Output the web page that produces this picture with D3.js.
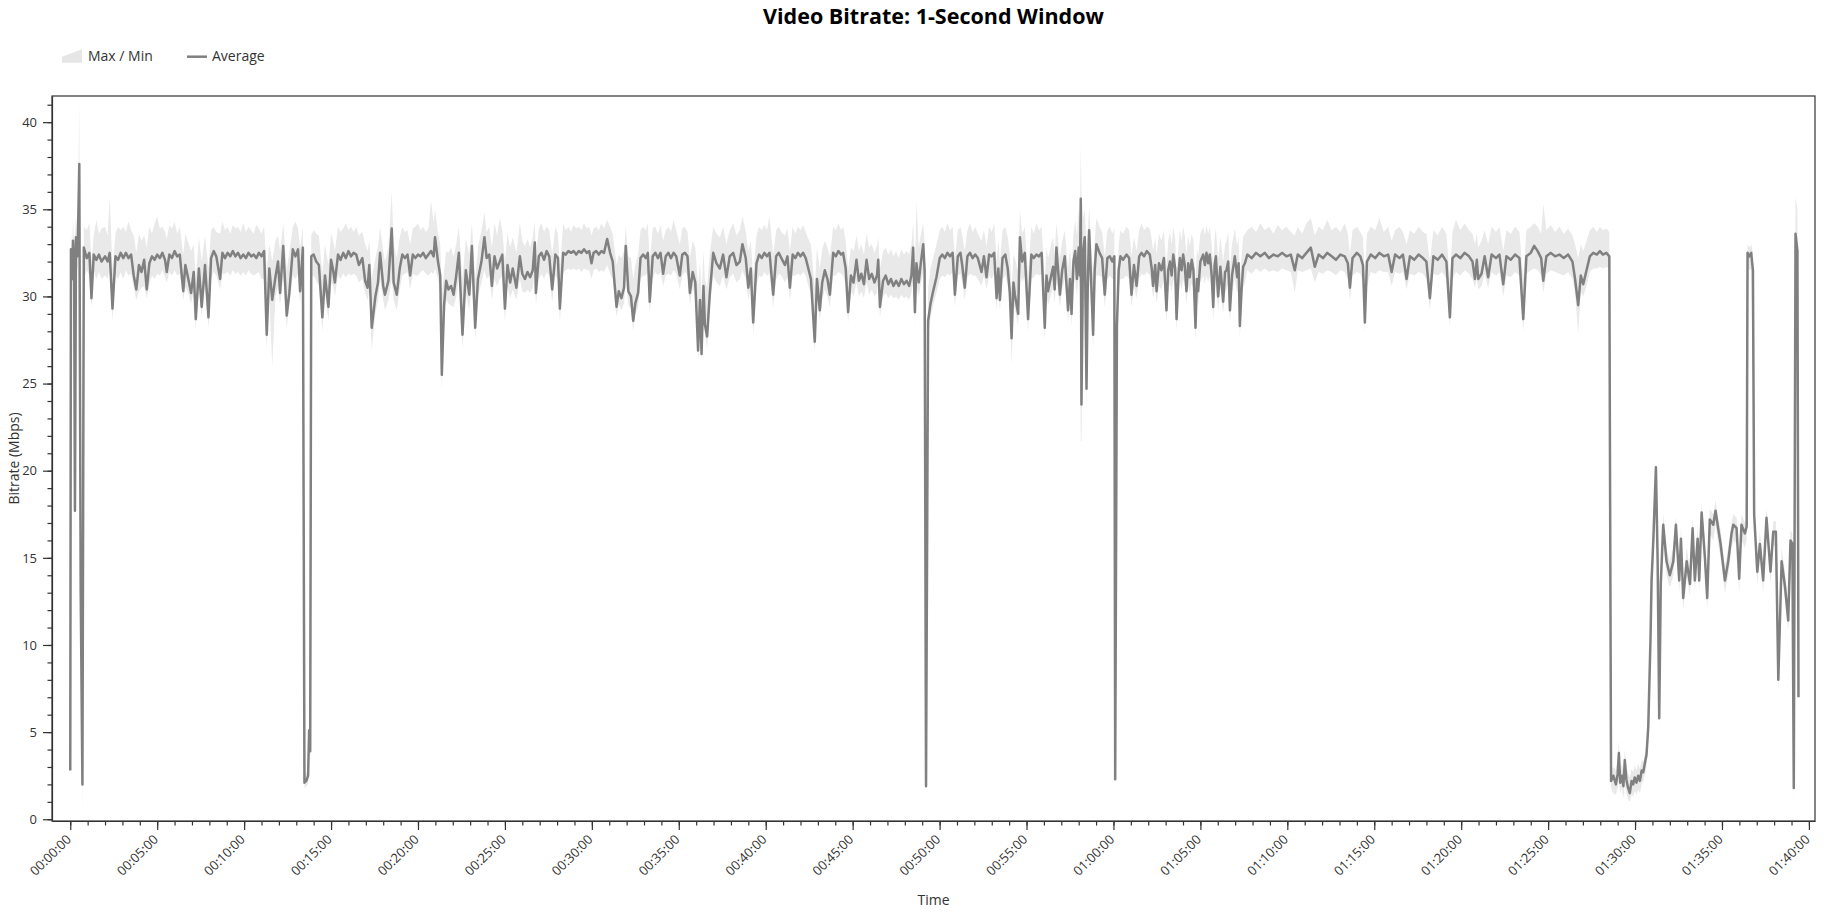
<!DOCTYPE html>
<html>
<head>
<meta charset="utf-8">
<script src="https://cdn.jsdelivr.net/npm/d3@7"></script>
<style>
  body { margin: 0; background: #fff; }
  text { font-family: "Open Sans", "Noto Sans", sans-serif; }
</style>
</head>
<body>
<svg id="bitrateChart"></svg>
<script>
// sample times (minutes) and the 1-second window stats (Mbps)
var tMin = [
  0, 0.04, 0.1, 0.16, 0.22, 0.27, 0.33, 0.42, 0.52, 0.6,
  0.7, 0.78, 0.95, 1.1, 1.22, 1.35, 1.5, 1.65, 1.8, 2,
  2.15, 2.27, 2.43, 2.6, 2.75, 2.9, 3.05, 3.2, 3.35, 3.5,
  3.65, 3.8, 3.95, 4.1, 4.25, 4.4, 4.55, 4.7, 4.85, 5,
  5.15, 5.3, 5.45, 5.55, 5.7, 5.85, 6, 6.15, 6.3, 6.5,
  6.62, 6.75, 6.95, 7.1, 7.22, 7.4, 7.56, 7.75, 7.95, 8.1,
  8.25, 8.4, 8.62, 8.75, 8.9, 9.05, 9.2, 9.35, 9.5, 9.65,
  9.8, 9.95, 10.1, 10.25, 10.4, 10.55, 10.7, 10.85, 11, 11.15,
  11.3, 11.45, 11.62, 11.8, 11.95, 12.07, 12.25, 12.45, 12.6, 12.8,
  12.95, 13.1, 13.22, 13.38, 13.47, 13.58, 13.68, 13.74, 13.8, 13.86,
  14.00, 14.15, 14.30, 14.50, 14.65, 14.85, 15.00, 15.12, 15.22, 15.40,
  15.55, 15.70, 15.85, 16.00, 16.15, 16.30, 16.45, 16.60, 16.80, 16.96,
  17.10, 17.20, 17.34, 17.55, 17.70, 17.82, 18.00, 18.10, 18.30, 18.49,
  18.60, 18.78, 18.95, 19.10, 19.25, 19.40, 19.55, 19.70, 19.85, 20.00,
  20.15, 20.30, 20.45, 20.60, 20.75, 20.90, 20.98, 21.15, 21.28, 21.37,
  21.50, 21.62, 21.75, 21.90, 22.05, 22.20, 22.35, 22.56, 22.75, 22.95,
  23.10, 23.29, 23.45, 23.65, 23.82, 23.95, 24.10, 24.25, 24.40, 24.55,
  24.70, 24.85, 25.00, 25.15,
  25.30, 25.45, 25.66, 25.86, 26.00, 26.15, 26.30, 26.45, 26.60, 26.72,
  26.78, 26.95, 27.10, 27.25, 27.40, 27.55, 27.72, 27.90, 28.05, 28.16,
  28.35, 28.50, 28.65, 28.80, 28.95, 29.10, 29.25, 29.40, 29.55, 29.70,
  29.85, 29.98, 30.10, 30.25, 30.40, 30.55, 30.70, 30.88, 31.05, 31.20,
  31.42, 31.55, 31.70, 31.85, 31.95, 32.10, 32.25, 32.38, 32.50, 32.66,
  32.80, 32.95, 33.10, 33.22, 33.33, 33.50, 33.65, 33.80, 33.95, 34.10,
  34.25, 34.40, 34.55, 34.70, 34.85, 35.06, 35.20, 35.35, 35.50, 35.64,
  35.80, 35.95, 36.11, 36.22, 36.31, 36.42, 36.50, 36.63, 36.78,
  36.98, 37.17, 37.36, 37.55, 37.74, 37.93, 38.13, 38.32, 38.51, 38.66,
  38.85, 39.00, 39.14, 39.28, 39.47, 39.62, 39.77, 39.92, 40.07, 40.22,
  40.43, 40.60, 40.75, 40.90, 41.10, 41.25, 41.39, 41.55, 41.70, 41.85,
  42.00, 42.15, 42.30, 42.45, 42.60, 42.82, 42.95, 43.11, 43.25, 43.40,
  43.55, 43.69, 43.88, 44.03, 44.18, 44.33, 44.45, 44.60, 44.74, 44.90,
  45.05, 45.22, 45.36, 45.50, 45.65, 45.80, 45.95, 46.10, 46.25, 46.40,
  46.47, 46.57, 46.75, 46.90, 47.05, 47.20, 47.35, 47.50, 47.65, 47.80,
  47.95, 48.10, 48.25, 48.38, 48.48, 48.58, 48.67, 48.80, 48.93, 49.06,
  49.14, 49.22, 49.34, 49.48, 49.63, 49.82, 50.01, 50.15, 50.30, 50.45,
  50.60, 50.75, 50.88,
  51.05, 51.20, 51.30, 51.45, 51.60, 51.75, 51.90, 52.05, 52.20, 52.41,
  52.55, 52.70, 52.85, 53.00, 53.14, 53.28, 53.38, 53.47, 53.62, 53.78,
  53.92, 54.04, 54.14, 54.25, 54.33, 54.52, 54.62, 54.75, 54.90, 55.09,
  55.28, 55.42, 55.57, 55.72, 55.87, 56.05, 56.15, 56.24, 56.38, 56.53,
  56.62, 56.72, 56.92, 57.05, 57.20, 57.39, 57.50, 57.59, 57.70, 57.80,
  57.90, 58.00, 58.07, 58.12, 58.16, 58.25, 58.35, 58.45, 58.52, 58.60,
  58.74, 58.83, 58.92, 59.02, 59.20, 59.35, 59.50, 59.65, 59.79, 59.93,
  60.05, 60.10, 60.20, 60.30, 60.40, 60.55, 60.75, 60.90, 61.04, 61.18,
  61.33, 61.48, 61.61, 61.76, 61.92, 62.09, 62.20, 62.28, 62.40, 62.48,
  62.62, 62.76, 62.90, 63.05, 63.15, 63.25, 63.35, 63.44, 63.55, 63.63,
  63.75, 63.82, 63.92, 64.01, 64.10, 64.20, 64.30, 64.39, 64.50, 64.60,
  64.72, 64.80, 64.87, 65.00, 65.16, 65.26, 65.35, 65.45, 65.54, 65.65,
  65.74, 65.82, 65.89, 66.02, 66.15, 66.31, 66.42, 66.50, 66.60, 66.70,
  66.82, 66.98, 67.12, 67.20, 67.27, 67.38, 67.46, 67.56, 67.70, 67.95,
  68.20, 68.45, 68.70, 68.95, 69.20, 69.45, 69.70, 69.95, 70.20, 70.43,
  70.60, 70.85, 71.10, 71.35, 71.58, 71.80, 72.05, 72.30, 72.55, 72.80,
  73.05, 73.30, 73.48, 73.60, 73.75, 74.00, 74.20, 74.35, 74.46, 74.58,
  74.80, 75.05, 75.30, 75.55, 75.80, 76.00, 76.20, 76.45, 76.65, 76.86,
  77.05, 77.30, 77.55, 77.80, 78.00, 78.20, 78.40, 78.65, 78.90, 79.15,
  79.35, 79.50, 79.70, 79.95, 80.20, 80.45, 80.65, 80.79, 80.90, 80.98,
  81.17, 81.35, 81.55, 81.75, 82.00, 82.20, 82.42, 82.60, 82.85, 83.10,
  83.35, 83.57, 83.75, 84.00, 84.20, 84.40, 84.60, 84.72, 84.90, 85.15,
  85.40, 85.65, 85.90, 86.15, 86.40, 86.55, 86.73, 86.88, 87.02, 87.21,
  87.40, 87.60, 87.80, 87.98, 88.15, 88.35, 88.52, 88.62, 88.75, 88.90,
  89.00, 89.07, 89.15, 89.25, 89.33, 89.41, 89.50, 89.60, 89.70, 89.80,
  89.89, 89.98, 90.08, 90.18, 90.28, 90.38, 90.47, 90.58, 90.66, 90.76,
  90.89, 90.95, 91.05, 91.20, 91.30, 91.39, 91.48, 91.62, 91.81, 92.00,
  92.20, 92.35, 92.54, 92.64, 92.77, 92.97, 93.16, 93.31, 93.44, 93.60,
  93.69, 93.83, 94.02, 94.15, 94.30, 94.50, 94.63, 94.78, 94.92, 95.17,
  95.36, 95.55, 95.65, 95.84, 95.99, 96.12, 96.32, 96.42, 96.47, 96.57,
  96.68, 96.78, 96.85, 97.03, 97.18, 97.37, 97.56, 97.79, 97.95, 98.10,
  98.24, 98.43, 98.62, 98.81, 98.94, 99.05, 99.13, 99.23, 99.34, 99.40
];

var avgMbps = [
  2.8, 32.7, 31.0, 33.2, 32.0, 17.7, 33.4, 32.3, 37.6, 13.2,
  2.0, 32.8, 32.2, 32.5, 29.9, 32.4, 32.1, 32.4, 32.0, 32.3,
  32.0, 32.5, 29.3, 32.3, 32.1, 32.5, 32.2, 32.5, 32.2, 32.4,
  31.2, 30.4, 31.8, 31.4, 32.1, 30.4, 31.9, 32.3, 32.1, 32.4,
  32.2, 32.5, 32.1, 31.4, 32.4, 32.2, 32.6, 32.3, 32.4, 30.3,
  31.8, 31.2, 30.2, 31.4, 28.7, 31.6, 29.4, 31.8, 28.8, 32.2,
  32.6, 32.3, 31.0, 32.5, 32.2, 32.5, 32.3, 32.6, 32.3, 32.5,
  32.2, 32.4, 32.2, 32.5, 32.3, 32.4, 32.2, 32.5, 32.3, 32.6,
  27.8, 31.6, 29.8, 31.1, 32.0, 30.2, 32.9, 28.9, 30.2, 32.7,
  32.3, 32.7, 30.3, 32.8, 2.1, 2.2, 2.5, 5.1, 3.9, 32.3,
  32.4, 32.0, 31.8, 28.8, 31.2, 29.4, 32.1, 31.5, 30.8, 32.4,
  32.1, 32.5, 32.2, 32.6, 32.3, 32.5, 32.4, 31.8, 32.2, 30.9,
  30.5, 31.8, 28.2, 30.0, 30.8, 32.5, 30.6, 30.1, 30.9, 33.9,
  30.8, 30.1, 31.6, 32.4, 32.2, 32.4, 31.2, 32.4, 32.2, 32.4,
  32.3, 32.5, 32.2, 32.4, 32.6, 32.3, 33.4, 32.0, 31.2, 25.5,
  29.5, 30.9, 30.4, 30.6, 30.1, 31.2, 32.5, 27.8, 31.5, 30.1,
  32.9, 28.2, 31.0, 32.0, 33.4, 32.2, 32.4, 30.6, 32.3, 31.6,
  32.0, 32.4, 29.3, 31.8,
  30.8, 31.6, 30.5, 32.3, 31.3, 31.0, 31.4, 31.1, 31.5, 33.1,
  30.2, 32.3, 32.5, 32.1, 32.6, 32.3, 30.4, 32.4, 32.2, 29.3,
  32.5, 32.4, 32.6, 32.5, 32.6, 32.4, 32.6, 32.5, 32.7, 32.5,
  32.6, 31.9, 32.5, 32.6, 32.4, 32.6, 32.5, 33.3, 32.5, 32.0,
  29.4, 30.3, 29.9, 30.5, 32.9, 30.3, 30.0, 28.6, 29.6, 30.2,
  32.2, 32.4, 32.2, 32.5, 29.7, 32.3, 32.5, 32.2, 32.5, 31.3,
  32.3, 32.5, 32.2, 32.5, 32.3, 31.2, 32.4, 32.5, 32.3, 30.2,
  31.4, 30.8, 26.9, 29.8, 26.7, 30.6, 28.4, 27.7, 30.1,
  32.5, 31.9, 31.6, 32.4, 31.1, 32.3, 32.5, 31.8, 32.0, 33.0,
  32.2, 30.5, 31.6, 28.5, 31.9, 32.4, 32.2, 32.5, 32.3, 32.5,
  30.1, 32.3, 32.5, 32.2, 31.8, 32.3, 30.5, 32.4, 32.2, 32.5,
  32.3, 32.5, 32.2, 31.6, 31.0, 27.4, 31.0, 29.2, 30.8, 31.5,
  31.0, 30.1, 32.5, 32.3, 32.6, 32.4, 32.5, 31.6, 29.1, 31.2,
  30.8, 32.1, 30.9, 31.3, 30.7, 32.1, 31.0, 31.3, 30.8, 31.2,
  32.1, 29.4, 30.9, 31.2, 30.7, 31.0, 30.6, 30.9, 30.6, 31.0,
  30.7, 30.9, 30.6, 31.2, 32.8, 29.1, 31.9, 30.8, 32.0, 33.0,
  31.5, 1.9, 28.6, 29.6, 30.3, 31.1, 32.2, 32.4, 32.2, 32.5,
  32.3, 32.5, 30.1,
  32.3, 32.5, 31.8, 30.5, 32.3, 32.5, 32.2, 32.4, 32.2, 31.4,
  32.3, 31.1, 32.4, 32.3, 32.5, 29.9, 31.6, 29.8, 32.2, 32.4,
  31.6, 30.2, 27.6, 30.8, 30.1, 29.0, 33.4, 32.0, 32.5, 28.7,
  32.4, 32.2, 32.4, 32.3, 32.5, 28.2, 31.2, 30.3, 31.0, 31.7,
  30.4, 32.8, 30.1, 31.5, 32.3, 29.2, 31.0, 29.0, 32.0, 32.6,
  31.0, 32.8, 31.2, 35.6, 23.8, 32.5, 33.4, 24.7, 30.5, 33.8,
  30.3, 27.8, 31.5, 33.0, 32.5, 32.2, 30.1, 32.2, 32.3, 32.0,
  32.3, 2.3, 28.3, 31.5, 32.3, 32.1, 32.4, 32.2, 30.1, 31.8,
  30.6, 32.3, 32.5, 32.3, 32.6, 32.4, 31.6, 30.6, 31.8, 30.3,
  31.9, 31.5, 32.2, 29.2, 31.5, 32.0, 31.2, 32.4, 31.6, 28.7,
  31.4, 32.2, 31.5, 32.4, 31.8, 30.3, 31.9, 31.1, 32.1, 31.5,
  28.2, 31.0, 30.3, 32.0, 32.4, 31.8, 32.5, 31.9, 32.4, 31.2,
  29.4, 31.8, 32.3, 30.0, 31.7, 29.7, 31.4, 31.5, 32.0, 29.2,
  31.2, 32.3, 31.1, 31.9, 28.3, 30.6, 31.7, 31.9, 32.4, 32.2,
  32.5, 32.3, 32.5, 32.2, 32.4, 32.3, 32.5, 32.3, 32.4, 31.5,
  32.4, 32.2, 32.5, 32.8, 31.7, 32.4, 32.2, 32.5, 32.3, 32.1,
  32.4, 32.3, 31.9, 30.5, 32.2, 32.5, 32.3, 31.8, 28.5, 32.0,
  32.4, 32.2, 32.5, 32.3, 32.4, 31.4, 32.4, 32.2, 32.4, 31.0,
  32.3, 32.1, 32.4, 32.2, 32.0, 29.9, 32.3, 32.1, 32.4, 32.0,
  28.8, 32.2, 32.4, 32.2, 32.5, 32.3, 32.0, 31.0, 32.1, 31.0,
  31.3, 32.3, 31.1, 32.4, 32.2, 32.4, 30.7, 32.3, 32.1, 32.4,
  32.2, 28.7, 32.3, 32.5, 32.9, 32.6, 32.2, 30.9, 32.3, 32.5,
  32.3, 32.4, 32.2, 32.4, 32.0, 31.0, 29.5, 31.2, 30.7, 31.5,
  32.3, 32.5, 32.4, 32.6, 32.4, 32.5, 32.3, 2.2, 2.5, 2.0,
  2.6, 3.8, 2.1, 2.5, 1.9, 3.4, 2.3, 1.8, 1.5, 2.2,
  2.0, 2.4, 2.1, 2.5, 2.2, 2.8, 2.7, 3.3, 3.7, 5.3,
  10.4, 13.7, 16.0, 20.2, 14.8, 5.8, 13.5, 16.9, 14.8, 14.0,
  14.8, 16.9, 13.7, 16.1, 12.7, 14.8, 13.5, 16.7, 13.7, 16.1,
  13.7, 17.6, 15.0, 12.7, 17.2, 16.9, 17.7, 16.7, 15.8, 13.7,
  14.8, 16.4, 16.9, 16.7, 13.8, 16.9, 16.4, 16.8, 32.5, 32.3,
  32.5, 31.5, 17.5, 14.2, 15.8, 13.7, 17.3, 14.2, 16.5, 16.5,
  8.0, 14.8, 13.4, 11.4, 16.0, 15.8, 1.8, 33.6, 32.6, 7.0
];

var minMbps = [
  2.0, 31.5, 30.5, 32.0, 31.5, 13.0, 32.0, 31.5, 33.0, 10.0,
  0.5, 31.0, 31.5, 31.2, 29.3, 31.5, 31.0, 31.4, 31.0, 31.2,
  31.0, 31.6, 28.6, 31.2, 31.0, 31.4, 31.0, 31.5, 31.2, 31.3,
  30.5, 29.8, 30.3, 30.5, 30.6, 29.9, 30.7, 31.2, 31.0, 31.3,
  31.2, 31.5, 31.1, 30.8, 31.4, 31.2, 31.5, 31.2, 31.3, 29.8,
  30.5, 30.3, 29.6, 30.3, 28.1, 30.5, 28.8, 30.6, 28.2, 31.0,
  31.4, 31.2, 30.4, 31.3, 31.3, 31.4, 31.2, 31.5, 31.3, 31.4,
  31.2, 31.4, 31.2, 31.5, 31.3, 31.2, 31.3, 31.4, 31.0, 31.0,
  27.0, 30.0, 26.0, 30.0, 30.6, 29.5, 31.2, 28.2, 29.5, 31.2,
  31.0, 31.3, 29.6, 31.5, 1.8, 1.9, 2.0, 4.0, 3.5, 31.0,
  31.2, 30.9, 30.6, 28.0, 30.2, 28.6, 30.8, 30.6, 30.0, 31.2,
  31.0, 31.3, 31.1, 31.3, 31.2, 31.3, 31.2, 30.8, 31.0, 30.2,
  29.8, 30.4, 26.9, 29.0, 29.8, 31.0, 29.8, 29.2, 29.8, 31.0,
  29.8, 29.2, 30.4, 31.2, 31.3, 31.4, 30.4, 31.3, 31.2, 31.2,
  31.4, 31.5, 31.3, 31.2, 31.4, 31.3, 31.6, 31.0, 30.3, 24.6,
  28.5, 29.8, 29.6, 29.5, 29.4, 30.0, 31.0, 27.0, 30.2, 29.2,
  31.0, 27.5, 30.0, 30.8, 31.5, 31.0, 31.2, 29.8, 31.0, 30.6,
  31.0, 31.2, 28.6, 30.6,
  29.9, 30.4, 29.8, 31.0, 30.3, 30.2, 30.4, 30.2, 30.5, 31.5,
  29.5, 31.0, 31.3, 31.0, 31.4, 31.2, 29.7, 31.2, 31.0, 28.5,
  31.4, 31.5, 31.6, 31.5, 31.6, 31.5, 31.6, 31.4, 31.6, 31.5,
  31.5, 31.0, 31.5, 31.6, 31.4, 31.5, 31.4, 31.8, 31.3, 31.0,
  28.8, 29.6, 29.2, 29.6, 31.0, 29.5, 29.3, 28.0, 29.0, 29.4,
  31.0, 31.2, 31.2, 31.4, 29.0, 31.0, 31.4, 31.2, 31.4, 30.6,
  31.2, 31.3, 31.2, 31.5, 31.3, 30.4, 31.2, 31.4, 31.2, 29.5,
  30.5, 30.0, 26.2, 28.8, 26.2, 29.6, 27.8, 27.0, 29.4,
  31.2, 30.8, 30.6, 31.2, 30.4, 31.1, 31.3, 30.8, 31.0, 31.5,
  31.0, 29.8, 30.6, 27.8, 30.6, 31.2, 31.1, 31.4, 31.2, 31.3,
  29.4, 31.0, 31.3, 31.2, 30.8, 31.1, 29.8, 31.2, 31.2, 31.3,
  31.2, 31.4, 31.2, 30.6, 30.2, 26.8, 30.0, 28.6, 29.8, 30.4,
  30.0, 29.4, 31.2, 31.2, 31.4, 31.3, 31.2, 30.6, 28.5, 30.3,
  30.0, 30.8, 30.0, 30.3, 29.9, 30.8, 30.1, 30.4, 30.0, 30.2,
  30.8, 28.8, 30.0, 30.2, 29.9, 30.1, 29.9, 30.0, 29.8, 30.1,
  29.9, 30.0, 29.8, 30.2, 31.0, 28.4, 30.6, 30.0, 30.8, 31.4,
  30.4, 1.6, 27.8, 28.8, 29.5, 30.2, 31.0, 31.2, 31.1, 31.3,
  31.2, 31.4, 29.4,
  31.2, 31.3, 30.8, 29.8, 31.1, 31.3, 31.2, 31.2, 31.0, 30.6,
  31.2, 30.4, 31.2, 31.0, 31.3, 29.2, 30.5, 29.2, 31.0, 31.2,
  30.6, 29.5, 26.1, 29.4, 29.3, 28.3, 31.5, 30.8, 31.2, 28.0,
  31.0, 31.1, 31.3, 31.2, 31.3, 27.5, 30.0, 29.5, 30.0, 30.5,
  29.6, 31.0, 29.4, 30.4, 31.0, 28.5, 30.0, 28.3, 30.6, 31.0,
  30.0, 31.2, 30.0, 21.7, 21.7, 28.0, 30.0, 23.5, 29.0, 31.0,
  29.0, 27.0, 30.0, 31.2, 31.2, 31.1, 29.4, 31.0, 31.2, 31.0,
  31.0, 1.6, 27.5, 30.4, 31.0, 31.0, 31.2, 31.0, 29.4, 30.6,
  29.9, 31.0, 31.3, 31.2, 31.4, 31.2, 30.6, 29.9, 30.6, 29.6,
  30.6, 30.4, 31.0, 28.5, 30.3, 30.8, 30.2, 31.0, 30.5, 28.0,
  30.2, 30.8, 30.4, 31.0, 30.7, 29.6, 30.6, 30.2, 30.8, 30.4,
  27.5, 30.0, 29.5, 30.8, 31.2, 30.7, 31.2, 30.8, 31.2, 30.2,
  28.6, 30.5, 31.0, 29.2, 30.5, 29.0, 30.2, 30.4, 30.8, 28.5,
  30.2, 31.0, 30.2, 30.6, 27.6, 29.8, 30.5, 30.8, 31.5, 31.3,
  31.6, 31.4, 31.6, 31.4, 31.5, 31.4, 31.6, 31.5, 31.4, 30.2,
  31.5, 31.4, 31.5, 31.6, 30.8, 31.4, 31.3, 31.5, 31.4, 31.2,
  31.5, 31.4, 31.0, 29.8, 31.2, 31.4, 31.3, 30.8, 27.9, 30.6,
  31.4, 31.3, 31.5, 31.4, 31.4, 30.6, 31.4, 31.3, 31.4, 30.4,
  31.3, 31.2, 31.4, 31.3, 31.0, 29.2, 31.3, 31.2, 31.4, 31.0,
  28.3, 31.0, 31.4, 31.2, 31.5, 31.3, 31.0, 30.5, 31.0, 30.4,
  30.6, 31.3, 30.5, 31.4, 31.2, 31.4, 30.0, 31.2, 31.1, 31.4,
  31.2, 28.0, 31.3, 31.5, 31.6, 31.5, 31.2, 30.2, 31.3, 31.5,
  31.4, 31.3, 31.2, 31.4, 31.0, 30.2, 27.9, 30.3, 30.0, 30.6,
  31.4, 31.6, 31.6, 31.7, 31.6, 31.7, 31.6, 1.8, 1.5, 1.4,
  1.8, 2.2, 1.5, 1.8, 1.2, 2.0, 1.5, 1.1, 1.0, 1.4,
  1.3, 1.6, 1.4, 1.7, 1.5, 2.0, 2.2, 2.6, 3.0, 4.5,
  9.0, 12.5, 14.5, 18.5, 13.5, 5.2, 12.5, 16.0, 14.0, 13.3,
  14.0, 16.0, 13.0, 15.2, 12.0, 14.0, 12.8, 15.8, 13.0, 15.3,
  13.0, 16.8, 14.2, 12.0, 16.4, 16.0, 16.9, 15.8, 15.0, 13.0,
  14.0, 15.6, 16.0, 15.8, 13.0, 16.0, 15.6, 16.0, 31.5, 31.5,
  31.6, 25.0, 16.6, 13.5, 15.0, 13.0, 16.5, 13.5, 15.7, 15.7,
  7.4, 14.0, 12.6, 10.8, 15.2, 15.0, 0.5, 32.5, 31.5, 6.0
];

var maxMbps = [
  3.0, 33.8, 32.5, 34.5, 33.0, 33.5, 34.6, 33.5, 41.1, 20.0,
  8.0, 34.0, 33.8, 34.2, 32.0, 33.5, 34.4, 33.6, 33.9, 34.0,
  33.5, 35.7, 31.5, 33.6, 34.0, 33.8, 34.0, 33.7, 34.3, 33.8,
  33.5, 32.5, 33.6, 33.2, 33.5, 32.8, 34.0, 33.6, 34.2, 34.6,
  33.9, 34.0, 33.7, 33.3, 34.1, 33.9, 34.3, 33.6, 34.0, 32.4,
  33.6, 33.2, 32.6, 33.0, 31.0, 33.4, 32.0, 33.5, 31.6, 33.8,
  34.0, 33.7, 33.6, 34.3, 33.8, 34.0, 33.6, 34.1, 33.9, 34.0,
  33.7, 34.2, 33.7, 34.0, 33.8, 33.6, 34.1, 33.9, 33.6, 34.0,
  31.5, 33.0, 32.0, 33.2, 33.5, 32.6, 34.2, 31.5, 32.5, 34.0,
  34.3, 33.9, 32.8, 34.0, 2.6, 2.6, 3.0, 5.5, 4.5, 33.5,
  33.8, 33.6, 33.5, 31.3, 33.0, 31.8, 33.6, 33.2, 32.6, 34.0,
  33.7, 33.9, 34.2, 33.8, 34.0, 33.7, 34.0, 33.5, 33.7, 33.0,
  32.6, 33.2, 31.0, 32.2, 32.9, 34.0, 32.6, 32.0, 32.8, 36.0,
  33.0, 32.2, 33.4, 34.0, 33.7, 33.8, 33.0, 33.9, 34.0, 34.2,
  33.8, 34.0, 33.7, 33.9, 35.5, 34.2, 35.0, 33.6, 33.0, 30.0,
  31.5, 32.6, 32.5, 32.8, 32.3, 33.0, 34.0, 31.0, 33.3, 32.4,
  34.2, 31.0, 32.8, 33.8, 34.8, 33.7, 34.0, 32.8, 34.2, 33.5,
  34.5, 33.8, 32.0, 33.6,
  32.8, 33.4, 32.5, 34.2, 33.2, 32.9, 33.3, 32.8, 33.4, 34.3,
  32.3, 33.9, 34.2, 33.7, 34.0, 33.8, 32.4, 34.0, 33.6, 31.5,
  34.2, 33.8, 34.0, 33.7, 34.1, 33.9, 34.0, 33.8, 34.2, 33.9,
  34.0, 33.5, 33.9, 34.0, 33.8, 34.2, 33.9, 34.4, 34.0, 33.6,
  31.8, 32.4, 32.2, 32.6, 34.0, 32.3, 32.2, 31.0, 31.8, 32.4,
  33.8, 34.0, 33.8, 34.2, 32.0, 33.9, 34.0, 33.6, 34.1, 33.2,
  33.8, 34.0, 33.7, 34.4, 33.8, 33.0, 33.9, 34.0, 33.7, 32.2,
  33.2, 32.8, 30.5, 32.0, 30.0, 32.6, 31.0, 30.5, 32.4,
  34.0, 33.6, 33.4, 34.0, 33.0, 33.8, 34.2, 33.5, 33.8, 34.6,
  33.7, 32.6, 33.2, 31.2, 33.5, 34.0, 33.8, 34.1, 33.8, 34.6,
  32.4, 33.8, 34.0, 33.7, 33.5, 33.9, 32.6, 34.0, 33.6, 34.0,
  33.8, 34.1, 33.7, 33.3, 33.0, 30.5, 32.8, 31.6, 32.7, 33.2,
  32.8, 32.3, 34.0, 33.8, 34.2, 33.8, 34.0, 33.2, 31.5, 32.8,
  32.6, 33.5, 32.6, 33.0, 32.4, 33.6, 32.8, 33.0, 32.5, 32.9,
  33.4, 31.6, 32.6, 32.8, 32.4, 32.7, 32.3, 32.6, 32.2, 32.7,
  32.4, 32.6, 32.4, 33.0, 34.2, 31.4, 35.5, 32.8, 33.6, 34.2,
  33.0, 2.4, 30.5, 31.6, 32.2, 33.0, 33.8, 34.0, 33.7, 34.2,
  33.8, 34.0, 32.2,
  33.8, 34.0, 33.5, 32.6, 33.8, 34.2, 33.7, 34.0, 33.6, 33.2,
  33.8, 32.9, 34.0, 33.7, 34.2, 32.0, 33.3, 31.9, 33.8, 34.0,
  33.4, 32.4, 30.5, 32.4, 32.2, 31.4, 35.0, 33.6, 34.0, 31.2,
  34.0, 33.6, 34.2, 33.8, 34.0, 30.8, 32.8, 32.2, 32.8, 33.4,
  32.4, 34.2, 32.2, 33.2, 33.8, 31.6, 32.8, 31.4, 33.6, 34.4,
  33.5, 35.0, 34.2, 38.8, 36.0, 34.5, 35.0, 33.0, 33.5, 35.2,
  32.6, 31.0, 33.2, 34.5, 34.0, 33.7, 32.3, 33.8, 34.0, 33.6,
  33.9, 2.8, 30.5, 33.0, 33.8, 33.6, 34.0, 33.8, 32.3, 33.4,
  32.6, 33.8, 34.2, 33.8, 34.0, 33.9, 33.3, 32.6, 33.4, 32.4,
  33.6, 33.2, 33.8, 31.6, 33.2, 33.7, 33.0, 34.0, 33.3, 31.2,
  33.0, 33.8, 33.2, 34.0, 33.5, 32.4, 33.5, 32.9, 33.6, 33.2,
  30.8, 32.8, 32.3, 33.6, 34.0, 33.5, 34.1, 33.6, 34.0, 33.0,
  31.8, 33.4, 33.9, 32.2, 33.4, 32.0, 33.0, 33.2, 33.7, 31.5,
  33.0, 33.9, 32.9, 33.5, 30.8, 32.5, 33.4, 33.6, 33.8, 34.0,
  33.7, 34.2, 33.8, 34.0, 33.6, 34.1, 33.8, 34.0, 33.7, 33.5,
  34.0, 33.6, 34.2, 34.5, 33.5, 34.0, 33.8, 34.4, 33.8, 34.0,
  33.7, 34.2, 33.6, 32.4, 33.8, 34.0, 33.7, 33.4, 31.0, 33.6,
  34.0, 33.8, 34.5, 33.7, 34.0, 33.2, 33.8, 34.0, 33.7, 33.0,
  33.8, 33.6, 34.0, 33.7, 33.6, 32.0, 33.8, 33.5, 34.0, 33.6,
  31.0, 33.7, 34.4, 33.8, 34.2, 33.8, 33.6, 33.0, 33.6, 32.8,
  33.2, 33.8, 33.0, 34.0, 33.7, 34.0, 32.6, 33.8, 33.6, 34.0,
  33.7, 31.0, 33.8, 34.0, 34.2, 34.0, 33.6, 35.3, 33.8, 34.1,
  33.7, 34.0, 33.6, 33.9, 33.5, 33.0, 32.2, 33.0, 32.6, 33.2,
  33.8, 34.0, 33.7, 34.0, 33.8, 33.9, 33.7, 2.8, 3.0, 2.8,
  3.5, 4.5, 2.8, 3.2, 2.6, 4.0, 3.0, 2.6, 2.4, 2.9,
  2.7, 3.1, 2.8, 3.2, 2.9, 3.4, 3.3, 3.8, 4.2, 5.8,
  11.5, 14.5, 17.0, 20.6, 16.0, 7.0, 14.5, 17.5, 15.5, 14.8,
  15.6, 17.4, 14.5, 16.8, 13.5, 15.6, 14.3, 17.3, 14.5, 16.8,
  14.5, 18.2, 15.8, 13.5, 17.8, 17.5, 18.3, 17.3, 16.6, 14.5,
  15.6, 17.0, 17.5, 17.3, 14.6, 17.5, 17.0, 17.5, 33.0, 32.8,
  33.0, 32.5, 18.0, 15.0, 16.5, 14.5, 17.8, 15.0, 17.1, 17.1,
  9.0, 15.6, 14.2, 12.2, 16.6, 16.4, 2.5, 35.7, 35.0, 8.0
];

var yTicks = [0, 5, 10, 15, 20, 25, 30, 35, 40];
var xTickMinutes = [0, 5, 10, 15, 20, 25, 30, 35, 40, 45, 50, 55, 60, 65, 70, 75, 80, 85, 90, 95, 100];

var width = 1842, height = 912;
var margin = {top: 96, right: 27, bottom: 91, left: 52};
var innerW = width - margin.left - margin.right;
var innerH = height - margin.top - margin.bottom;

var n = Math.min(tMin.length, avgMbps.length, minMbps.length, maxMbps.length);
var data = [];
for (var i = 0; i < n; i++) {
    data.push({sec: tMin[i] * 60, avg: avgMbps[i], lo: minMbps[i], hi: maxMbps[i]});
}

var svg = d3.select("#bitrateChart")
    .attr("width", width)
    .attr("height", height);

var g = svg.append("g")
    .attr("transform", "translate(" + margin.left + "," + margin.top + ")");

var xScale = d3.scaleLinear().domain([-63, 6021]).range([0, innerW]);
var yScale = d3.scaleLinear().domain([-0.1, 41.5]).range([innerH, 0]);

g.append("clipPath").attr("id", "plotClip")
    .append("rect").attr("width", innerW).attr("height", innerH);

var plot = g.append("g").attr("clip-path", "url(#plotClip)");

// max / min band
plot.append("path")
    .datum(data)
    .attr("fill", "#e9e9e9")
    .attr("d", d3.area()
        .x(d => xScale(d.sec))
        .y0(d => yScale(d.lo))
        .y1(d => yScale(d.hi)));

// average line
plot.append("path")
    .datum(data)
    .attr("fill", "none")
    .attr("stroke", "#808080")
    .attr("stroke-width", 2.5)
    .attr("stroke-linejoin", "round")
    .attr("d", d3.line()
        .x(d => xScale(d.sec))
        .y(d => yScale(d.avg)));

// frame
g.append("rect")
    .attr("width", innerW)
    .attr("height", innerH)
    .attr("fill", "none")
    .attr("stroke", "#333")
    .attr("stroke-width", 1.2);

// y axis: minor ticks every 1, labels every 5
g.append("g")
    .attr("class", "y-minor")
    .call(d3.axisLeft(yScale).tickValues(d3.range(0, 42, 1)).tickSize(4.5).tickFormat(""))
    .call(a => a.select(".domain").remove());

g.append("g")
    .attr("class", "y-axis")
    .call(d3.axisLeft(yScale).tickValues(yTicks).tickSize(9).tickSizeOuter(0).tickPadding(6));

// x axis: minor ticks every minute, labels every 5 minutes
var fmtTime = d3.utcFormat("%H:%M:%S");

g.append("g")
    .attr("class", "x-minor")
    .attr("transform", "translate(0," + innerH + ")")
    .call(d3.axisBottom(xScale).tickValues(d3.range(0, 6001, 60)).tickSize(4.5).tickFormat(""))
    .call(a => a.select(".domain").remove());

var xAxis = g.append("g")
    .attr("class", "x-axis")
    .attr("transform", "translate(0," + innerH + ")")
    .call(d3.axisBottom(xScale)
        .tickValues(xTickMinutes.map(m => m * 60))
        .tickSize(9).tickSizeOuter(0)
        .tickFormat(s => fmtTime(new Date(s * 1000))));

xAxis.selectAll("text")
    .attr("x", 0)
    .attr("y", 0)
    .attr("dy", "0.35em")
    .attr("transform", "translate(-2,16) rotate(-45)")
    .style("text-anchor", "end");

svg.selectAll(".domain, .tick line")
    .attr("stroke", "#333")
    .attr("stroke-width", 1.2);

svg.selectAll(".tick text")
    .attr("fill", "#333")
    .style("font-size", "13px");

// title
svg.append("text")
    .attr("x", margin.left + innerW / 2)
    .attr("y", 24)
    .attr("text-anchor", "middle")
    .attr("fill", "#000")
    .style("font-size", "21.5px")
    .style("font-weight", "bold")
    .text("Video Bitrate: 1-Second Window");

// axis titles
svg.append("text")
    .attr("x", margin.left + innerW / 2)
    .attr("y", 905)
    .attr("text-anchor", "middle")
    .attr("fill", "#333")
    .style("font-size", "14px")
    .text("Time");

svg.append("text")
    .attr("transform", "translate(18.5," + (margin.top + innerH / 2) + ") rotate(-90)")
    .attr("text-anchor", "middle")
    .attr("fill", "#333")
    .style("font-size", "14px")
    .text("Bitrate (Mbps)");

// legend
var legend = svg.append("g").attr("class", "legend");

legend.append("path")
    .attr("d", "M62,56.7 L82,49.3 L82,62.7 L62,62.7 Z")
    .attr("fill", "#e6e6e6");

legend.append("text")
    .attr("x", 88).attr("y", 56.5).attr("dy", "0.35em")
    .attr("fill", "#333")
    .style("font-size", "14px")
    .text("Max / Min");

legend.append("line")
    .attr("x1", 187).attr("x2", 207)
    .attr("y1", 56.7).attr("y2", 56.7)
    .attr("stroke", "#808080")
    .attr("stroke-width", 2.5);

legend.append("text")
    .attr("x", 212).attr("y", 56.5).attr("dy", "0.35em")
    .attr("fill", "#333")
    .style("font-size", "14px")
    .text("Average");
</script>
</body>
</html>
